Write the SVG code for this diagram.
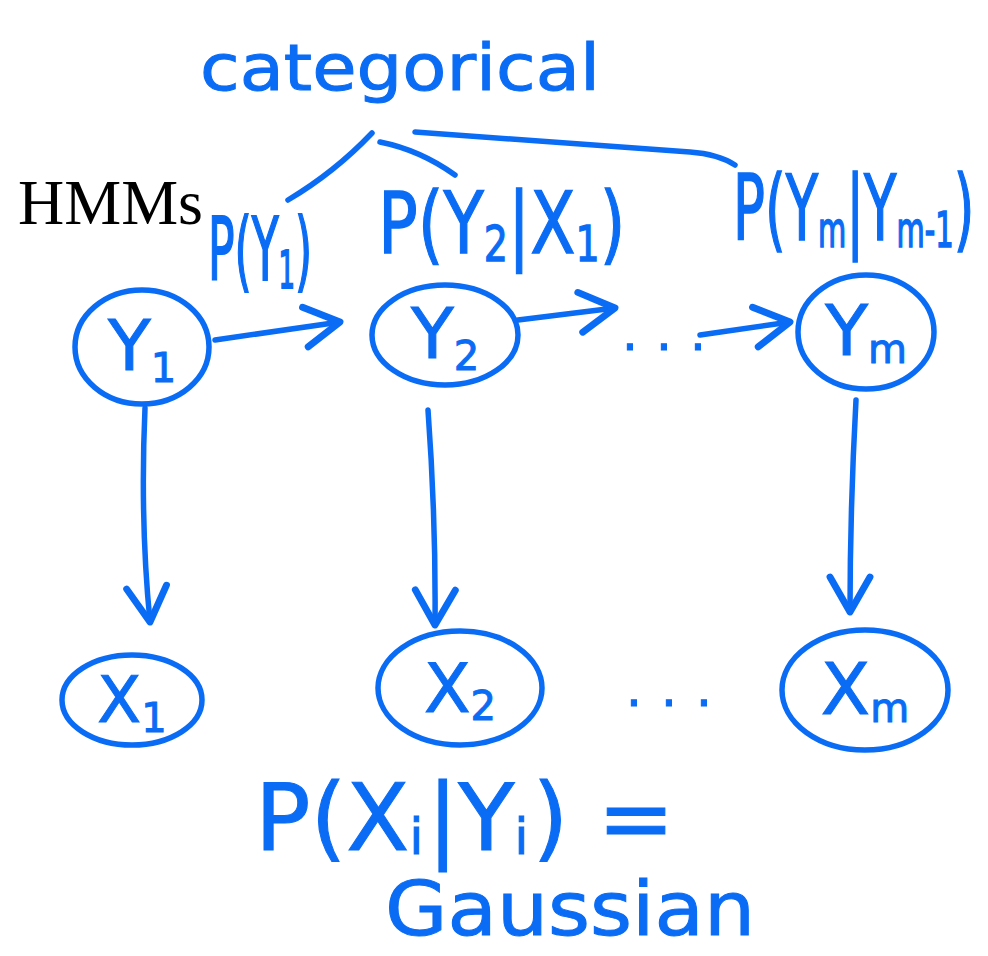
<svg xmlns="http://www.w3.org/2000/svg" width="988" height="956" viewBox="0 0 988 956">
<style>
.ink{fill:none;stroke:#0a6cf5;stroke-width:5.5;stroke-linecap:round;stroke-linejoin:round}
.t{fill:#0a6cf5;font-family:"DejaVu Sans","Liberation Sans",sans-serif;stroke:#0a6cf5;stroke-width:1}
.hd{font-family:"Liberation Serif",serif;font-size:64px;fill:#000}
</style>
<defs>
<marker id="ah" markerUnits="userSpaceOnUse" markerWidth="50" markerHeight="50" refX="36" refY="20" orient="auto" viewBox="0 0 40 40">
<path d="M8,4 L36,20 L8,36" fill="none" stroke="#0a6cf5" stroke-width="5.5" stroke-linecap="round" stroke-linejoin="round"/>
</marker>
</defs>
<rect width="988" height="956" fill="#fff"/>
<text class="hd" x="18" y="224">HMMs</text>
<g id="labels">
<text class="t" x="200" y="90" font-size="64" textLength="400" lengthAdjust="spacingAndGlyphs">categorical</text>
<text class="t" transform="translate(208,280) scale(1,2)" x="0" y="0" font-size="44">P(Y<tspan font-size="26" dy="4">1</tspan><tspan dy="-4">)</tspan></text>
<text class="t" transform="translate(378,253) scale(1,1.3)" x="0" y="0" font-size="66">P(Y<tspan font-size="38" dy="6">2</tspan><tspan dy="-6">|X</tspan><tspan font-size="38" dy="6">1</tspan><tspan dy="-6">)</tspan></text>
<text class="t" transform="translate(733,240) scale(1,1.7)" x="0" y="0" font-size="53">P(Y<tspan font-size="29" dy="4">m</tspan><tspan dy="-4">|Y</tspan><tspan font-size="29" dy="4">m-1</tspan><tspan dy="-4">)</tspan></text>
<text class="t" x="255" y="850" font-size="92">P(X<tspan font-size="50" dy="4">i</tspan><tspan dx="4" dy="-4">|Y</tspan><tspan font-size="50" dy="4">i</tspan><tspan dx="4" dy="-4">) =</tspan></text>
<text class="t" x="385" y="935" font-size="74" textLength="370" lengthAdjust="spacingAndGlyphs">Gaussian</text>
<text class="t" x="622" y="350" font-size="50" textLength="84" lengthAdjust="spacing">...</text>
<text class="t" x="626" y="706" font-size="50" textLength="86" lengthAdjust="spacing">...</text>
</g>
<g id="connectors">
<path class="ink" d="M372,133 Q335,172 288,200"/>
<path class="ink" d="M380,142 Q420,150 455,175"/>
<path class="ink" d="M415,132 L690,152 Q718,154 735,165"/>
<path class="ink" d="M215,340 L340,322" marker-end="url(#ah)"/>
<path class="ink" d="M518,320 L615,308" marker-end="url(#ah)"/>
<path class="ink" d="M700,335 L790,322" marker-end="url(#ah)"/>
<path class="ink" d="M145,408 Q140,520 150,622" marker-end="url(#ah)"/>
<path class="ink" d="M428,410 Q436,520 435,625" marker-end="url(#ah)"/>
<path class="ink" d="M856,400 Q850,510 850,612" marker-end="url(#ah)"/>
</g>
<g id="Y1"><ellipse class="ink" cx="142" cy="347" rx="67" ry="57"/><text class="t" x="142" y="370" font-size="70" text-anchor="middle">Y<tspan font-size="40" dy="12">1</tspan></text></g>
<g id="Y2"><ellipse class="ink" cx="445" cy="335" rx="73" ry="50"/><text class="t" x="445" y="358" font-size="70" text-anchor="middle">Y<tspan font-size="40" dy="12">2</tspan></text></g>
<g id="Ym"><ellipse class="ink" cx="866" cy="332" rx="68" ry="57"/><text class="t" x="866" y="355" font-size="70" text-anchor="middle">Y<tspan font-size="40" dy="8">m</tspan></text></g>
<g id="X1"><ellipse class="ink" cx="132" cy="700" rx="70" ry="45"/><text class="t" x="132" y="722" font-size="64" text-anchor="middle">X<tspan font-size="40" dy="10">1</tspan></text></g>
<g id="X2"><ellipse class="ink" cx="460" cy="688" rx="82" ry="57"/><text class="t" x="460" y="712" font-size="68" text-anchor="middle">X<tspan font-size="40" dy="8">2</tspan></text></g>
<g id="Xm"><ellipse class="ink" cx="865" cy="690" rx="83" ry="60"/><text class="t" x="865" y="714" font-size="72" text-anchor="middle">X<tspan font-size="40" dy="8">m</tspan></text></g>
</svg>
